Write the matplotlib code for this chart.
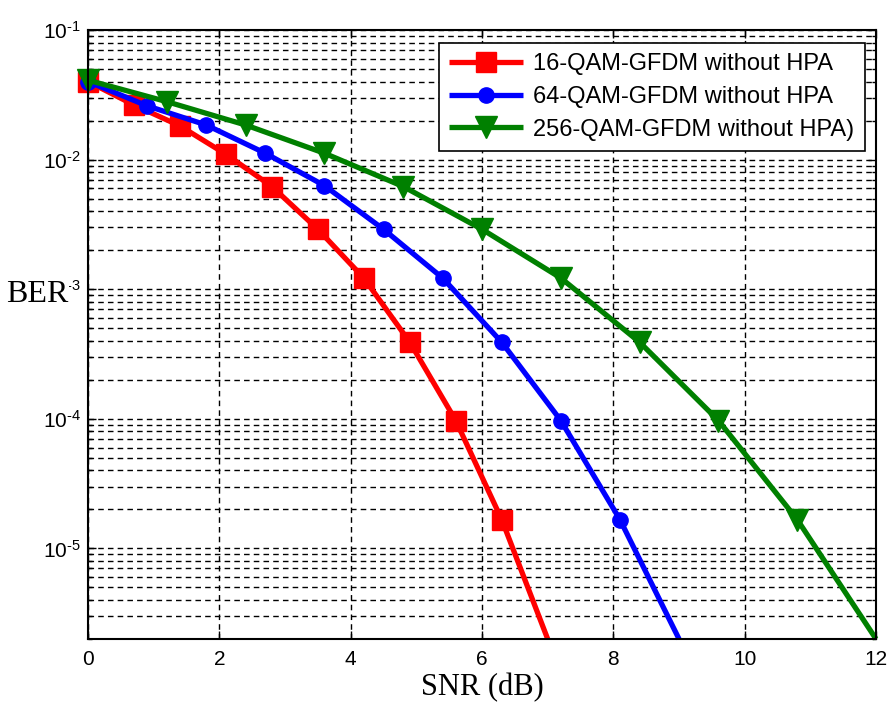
import matplotlib
matplotlib.use('Agg')
import matplotlib.pyplot as plt
from matplotlib.ticker import FuncFormatter
import numpy as np

plt.rcParams['font.family'] = ['Liberation Sans', 'DejaVu Sans']
plt.rcParams['mathtext.fontset'] = 'custom'
plt.rcParams['mathtext.rm'] = 'Liberation Sans'
plt.rcParams['mathtext.default'] = 'regular'

# SNR points per modulation order
snr_16qam = [0, 0.7, 1.4, 2.1, 2.8, 3.5, 4.2, 4.9, 5.6, 6.3, 7.0]
snr_64qam = [0, 0.9, 1.8, 2.7, 3.6, 4.5, 5.4, 6.3, 7.2, 8.1, 9.0]
snr_256qam = [0, 1.2, 2.4, 3.6, 4.8, 6.0, 7.2, 8.4, 9.6, 10.8, 12.0]

# bit error rates
ber_16qam = [0.040, 0.0264, 0.0182, 0.0110, 0.0062, 0.0029, 0.00122, 3.9e-4, 9.7e-5, 1.67e-5, 2e-6]
ber_64qam = [0.040, 0.0260, 0.0185, 0.0112, 0.0063, 0.0029, 0.00122, 3.9e-4, 9.7e-5, 1.67e-5, 2e-6]
ber_256qam = [0.041, 0.0280, 0.0185, 0.0112, 0.0062, 0.0029, 0.00122, 3.9e-4, 9.7e-5, 1.67e-5, 2e-6]

labels = ['16-QAM-GFDM without HPA', '64-QAM-GFDM without HPA', '256-QAM-GFDM without HPA)']

fig = plt.figure(figsize=(8.88, 7.11), dpi=100)
ax = fig.add_axes([0.0991, 0.1013, 0.8874, 0.8565])

def plotCurve(ax, x, y, color, marker, ms, label):
    ax.semilogy(x, y, color=color, lw=3.8, marker=marker, ms=ms,
                markerfacecolor=color, markeredgecolor=color,
                markevery=slice(0, len(x) - 1), clip_on=False,
                solid_capstyle='butt', label=label)

plotCurve(ax, snr_16qam, ber_16qam, '#ff0000', 's', 14, labels[0])
plotCurve(ax, snr_64qam, ber_64qam, '#0000ff', 'o', 11, labels[1])
plotCurve(ax, snr_256qam, ber_256qam, '#008000', 'v', 16, labels[2])

ax.set_xlim(0, 12)
ax.set_ylim(2e-6, 1e-1)
ax.set_xticks([0, 2, 4, 6, 8, 10, 12])

def decadeLabel(v, pos):
    e = int(round(np.log10(v)))
    return r'$10^{\text{%d}}$' % e

ax.yaxis.set_major_formatter(FuncFormatter(decadeLabel))

ax.grid(True, which='major', color='k', ls=(0, (4, 3)), lw=1.0)
ax.grid(True, which='minor', axis='y', color='k', ls=(0, (4, 3)), lw=1.0)
ax.tick_params(which='both', direction='in', top=True, right=True, labelsize=15, colors='k')
ax.tick_params(which='major', length=6, width=1)
ax.tick_params(which='minor', length=3, width=1)
ax.tick_params(axis='x', pad=8)
ax.tick_params(axis='y', pad=5)
for sp in ax.spines.values():
    sp.set_linewidth(1.5)

ax.set_xlabel('SNR (dB)', family='Liberation Serif', fontsize=22, labelpad=3)
ax.text(-0.064, 0.565, 'BER', transform=ax.transAxes, family='Liberation Serif',
        fontsize=23, ha='center', va='center',
        bbox=dict(facecolor='white', edgecolor='none', pad=0))

leg = ax.legend(loc='upper right', bbox_to_anchor=(0.986, 0.979), borderaxespad=0,
                fontsize=17, fancybox=False, edgecolor='k', framealpha=1,
                handlelength=3.1, handletextpad=0.45, labelspacing=0.45,
                borderpad=0.45)
leg.get_frame().set_linewidth(1.2)

fig.savefig('out.png', dpi=100)
